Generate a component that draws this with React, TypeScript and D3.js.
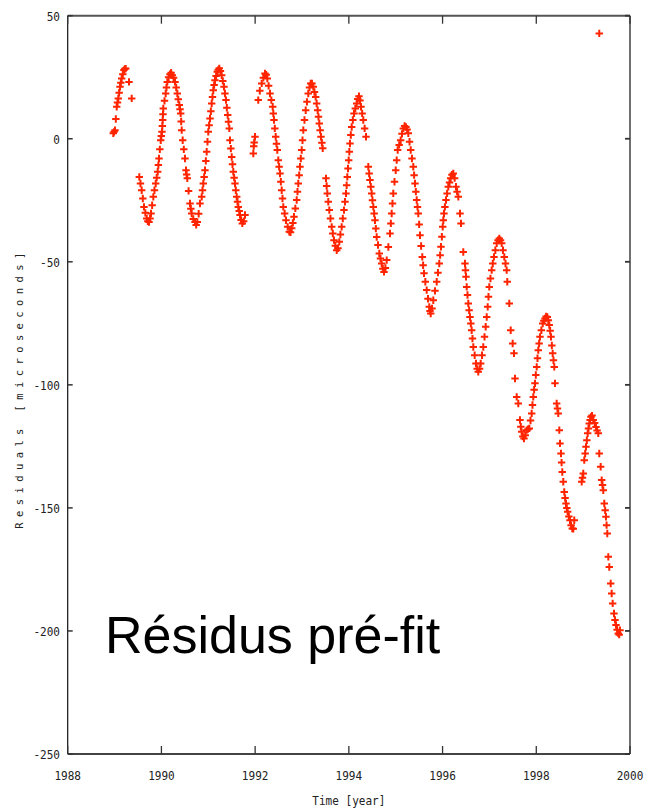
import React from "react";
import * as d3 from "d3";

type Pt = [number, number];

// Residuals [microseconds] vs time [year] (order irrelevant)
const obs1989: Pt[] = [
  [1988.973, 2.2], [1988.99, 2.8], [1989.009, 3.5], [1989.027, 8.0], [1989.046, 13.0],
  [1989.063, 14.7], [1989.08, 16.4], [1989.098, 18.7], [1989.116, 21.1], [1989.134, 22.8],
  [1989.152, 24.5], [1989.176, 26.2], [1989.201, 27.9], [1989.22, 28.4], [1989.238, 28.5],
  [1989.308, 23.1], [1989.366, 16.4],
  [1989.528, -15.5], [1989.553, -18.2], [1989.579, -20.9], [1989.603, -24.3], [1989.628, -27.7],
  [1989.657, -30.1], [1989.686, -32.4], [1989.71, -33.5], [1989.735, -33.8], [1989.757, -32.4],
  [1989.778, -30.4], [1989.802, -27.0], [1989.827, -23.6], [1989.852, -20.9], [1989.878, -18.2],
  [1989.9, -15.8], [1989.921, -13.4], [1989.935, -10.7], [1989.948, -8.0], [1989.966, -4.3],
  [1989.985, -0.6], [1989.998, 1.1],
];
const obs1990: Pt[] = [
  [1990.012, 2.8], [1990.02, 5.2], [1990.027, 7.6], [1990.034, 10.0], [1990.04, 12.3],
  [1990.066, 15.4], [1990.091, 18.4], [1990.108, 20.8], [1990.125, 23.1], [1990.154, 25.0],
  [1990.183, 26.2], [1990.207, 26.8], [1990.232, 25.8], [1990.26, 24.8], [1990.29, 23.1],
  [1990.315, 20.8], [1990.339, 18.4], [1990.36, 16.0], [1990.382, 13.7], [1990.397, 12.0],
  [1990.411, 10.3], [1990.422, 7.0], [1990.433, 3.5], [1990.454, -0.6], [1990.478, -4.3],
  [1990.503, -8.0], [1990.525, -12.8], [1990.538, -14.5], [1990.552, -16.1], [1990.58, -21.2],
  [1990.61, -26.3], [1990.628, -28.4], [1990.646, -30.4], [1990.68, -32.6], [1990.717, -33.8],
  [1990.742, -35.0], [1990.766, -33.8], [1990.795, -30.5], [1990.823, -26.3], [1990.86, -23.6],
  [1990.877, -20.9], [1990.894, -18.2], [1990.912, -15.5], [1990.93, -12.8], [1990.948, -9.0],
  [1990.966, -5.3], [1990.983, -1.2],
];
const obs1991: Pt[] = [
  [1991.0, 2.8], [1991.018, 5.5], [1991.037, 8.2], [1991.055, 11.2], [1991.073, 14.3],
  [1991.09, 17.0], [1991.107, 19.7], [1991.125, 21.8], [1991.143, 23.8], [1991.168, 25.5],
  [1991.192, 27.2], [1991.213, 28.0], [1991.235, 28.6], [1991.26, 27.5], [1991.286, 25.8],
  [1991.31, 23.5], [1991.335, 21.1], [1991.356, 18.4], [1991.378, 15.7], [1991.396, 12.6],
  [1991.414, 9.6], [1991.432, 6.9], [1991.449, 4.2], [1991.464, -0.6], [1991.482, -4.0],
  [1991.5, -7.4], [1991.517, -10.4], [1991.534, -13.4], [1991.552, -15.8], [1991.57, -18.2],
  [1991.588, -20.9], [1991.607, -23.6], [1991.624, -25.6], [1991.641, -27.7], [1991.66, -29.4],
  [1991.677, -31.0], [1991.7, -33.0], [1991.726, -34.4], [1991.755, -33.5], [1991.784, -31.0],
  [1991.961, -6.0], [1991.97, -3.0], [1991.98, -1.5], [1991.997, 0.8],
];
const obs1992: Pt[] = [
  [1992.067, 15.7], [1992.1, 19.5], [1992.14, 22.5], [1992.175, 24.8], [1992.21, 26.5],
  [1992.235, 26.0], [1992.26, 24.5], [1992.288, 21.5], [1992.317, 18.4], [1992.346, 15.7],
  [1992.375, 13.0], [1992.388, 10.3], [1992.402, 7.6], [1992.42, 4.2], [1992.439, 0.8],
  [1992.456, -2.0], [1992.473, -4.6], [1992.494, -8.7], [1992.512, -11.4], [1992.531, -14.1],
  [1992.549, -17.5], [1992.567, -20.9], [1992.584, -24.3], [1992.601, -27.7], [1992.63, -30.4],
  [1992.659, -33.1], [1992.694, -35.8], [1992.729, -37.8], [1992.755, -38.0], [1992.78, -36.4],
  [1992.805, -34.2], [1992.829, -31.7], [1992.858, -28.3], [1992.887, -24.9], [1992.904, -21.5],
  [1992.921, -18.2], [1992.94, -14.8], [1992.957, -11.4], [1992.975, -8.0], [1992.994, -4.6],
];
const obs1993: Pt[] = [
  [1993.011, -0.6], [1993.028, 3.5], [1993.053, 7.6], [1993.079, 11.6], [1993.106, 15.0],
  [1993.134, 18.4], [1993.16, 20.8], [1993.186, 22.5], [1993.213, 22.5], [1993.241, 21.1],
  [1993.266, 19.0], [1993.292, 17.0], [1993.313, 14.3], [1993.335, 11.6], [1993.352, 8.9],
  [1993.369, 6.2], [1993.387, 3.5], [1993.405, 0.8], [1993.424, -1.6], [1993.442, -3.9],
  [1993.512, -16.1], [1993.526, -19.2], [1993.54, -22.2], [1993.561, -25.6], [1993.583, -29.0],
  [1993.608, -32.4], [1993.634, -35.8], [1993.658, -38.5], [1993.683, -41.2], [1993.712, -43.5],
  [1993.741, -45.3], [1993.768, -44.5], [1993.796, -41.9], [1993.82, -38.9], [1993.847, -35.8],
  [1993.871, -32.4], [1993.896, -29.0], [1993.918, -25.6], [1993.939, -22.2], [1993.953, -18.9],
  [1993.967, -15.5], [1993.982, -12.1], [1993.997, -8.7],
];
const obs1994: Pt[] = [
  [1994.01, -5.3], [1994.024, -1.9], [1994.042, 1.5], [1994.061, 4.8], [1994.085, 7.6],
  [1994.11, 10.3], [1994.138, 12.3], [1994.167, 14.3], [1994.19, 16.2], [1994.216, 17.3],
  [1994.238, 15.5], [1994.259, 13.0], [1994.284, 10.3], [1994.308, 7.6], [1994.337, 4.2],
  [1994.366, 0.8], [1994.415, -11.4], [1994.433, -14.1], [1994.451, -16.8], [1994.469, -19.5],
  [1994.487, -22.2], [1994.504, -25.0], [1994.522, -27.7], [1994.54, -30.4], [1994.558, -33.1],
  [1994.576, -36.5], [1994.594, -39.9], [1994.622, -43.2], [1994.65, -46.6], [1994.675, -48.7],
  [1994.701, -50.7], [1994.725, -52.8], [1994.75, -54.1], [1994.78, -52.5], [1994.808, -49.3],
  [1994.843, -44.0], [1994.878, -38.5], [1994.896, -34.4], [1994.914, -30.4], [1994.931, -26.3],
  [1994.948, -22.2], [1994.974, -17.5],
];
const obs1995: Pt[] = [
  [1995.0, -12.8], [1995.021, -8.7], [1995.042, -4.6], [1995.074, -2.5], [1995.106, -0.6],
  [1995.134, 2.0], [1995.162, 4.2], [1995.19, 5.2], [1995.219, 4.8], [1995.244, 3.8],
  [1995.269, 2.2], [1995.295, -1.2], [1995.32, -4.6], [1995.347, -8.0], [1995.375, -11.4],
  [1995.393, -14.8], [1995.412, -18.2], [1995.43, -21.5], [1995.448, -24.9], [1995.465, -27.7],
  [1995.482, -30.4], [1995.5, -34.8], [1995.518, -39.2], [1995.542, -43.6], [1995.567, -48.0],
  [1995.585, -51.4], [1995.604, -54.7], [1995.632, -58.1], [1995.661, -61.5], [1995.689, -65.0],
  [1995.717, -68.3], [1995.732, -70.0], [1995.747, -71.0], [1995.775, -69.0], [1995.802, -65.6],
  [1995.838, -61.8], [1995.875, -58.1], [1995.902, -54.4], [1995.93, -50.7], [1995.948, -47.3],
  [1995.966, -43.9], [1995.985, -39.8],
];
const obs1996: Pt[] = [
  [1996.003, -35.8], [1996.016, -33.1], [1996.03, -30.4], [1996.05, -27.7], [1996.073, -24.9],
  [1996.097, -22.2], [1996.122, -19.5], [1996.148, -17.8], [1996.173, -16.1], [1996.2, -14.6],
  [1996.229, -14.1], [1996.258, -16.0], [1996.286, -19.5], [1996.31, -21.5], [1996.336, -23.6],
  [1996.372, -30.4], [1996.393, -34.4], [1996.442, -46.0], [1996.478, -50.7], [1996.489, -53.4],
  [1996.5, -56.1], [1996.515, -60.2], [1996.532, -63.5], [1996.549, -66.9], [1996.567, -69.7],
  [1996.585, -72.4], [1996.603, -75.1], [1996.621, -77.8], [1996.638, -81.2], [1996.656, -84.6],
  [1996.685, -88.0], [1996.713, -91.3], [1996.738, -93.5], [1996.762, -94.7], [1996.79, -93.5],
  [1996.814, -91.3], [1996.842, -88.0], [1996.869, -84.6], [1996.895, -80.5], [1996.92, -76.4],
  [1996.942, -72.4], [1996.963, -68.3], [1996.98, -64.2], [1996.997, -60.2],
];
const obs1997: Pt[] = [
  [1997.022, -56.8], [1997.048, -53.4], [1997.072, -50.7], [1997.097, -48.0], [1997.126, -45.3],
  [1997.155, -42.5], [1997.183, -41.2], [1997.211, -40.5], [1997.237, -41.2], [1997.262, -42.5],
  [1997.29, -45.3], [1997.317, -48.0], [1997.343, -50.7], [1997.368, -53.4], [1997.381, -58.1],
  [1997.424, -66.9], [1997.454, -77.8], [1997.496, -83.2], [1997.524, -87.2], [1997.546, -97.4],
  [1997.582, -104.9], [1997.616, -107.6], [1997.652, -114.3], [1997.67, -117.0], [1997.688, -119.1],
  [1997.713, -121.0], [1997.738, -121.8], [1997.765, -120.5], [1997.795, -118.4], [1997.823, -118.0],
  [1997.851, -117.7], [1997.877, -114.5], [1997.902, -111.6], [1997.919, -108.2], [1997.936, -104.9],
  [1997.954, -102.0], [1997.972, -99.4], [1997.99, -96.0],
];
const obs1998: Pt[] = [
  [1998.009, -92.7], [1998.026, -89.2], [1998.043, -85.9], [1998.061, -83.2], [1998.079, -80.5],
  [1998.108, -77.8], [1998.137, -75.1], [1998.162, -74.0], [1998.186, -73.0], [1998.21, -72.2],
  [1998.235, -72.4], [1998.256, -73.8], [1998.277, -75.7], [1998.296, -78.0], [1998.314, -80.5],
  [1998.332, -84.0], [1998.35, -87.2], [1998.367, -90.0], [1998.384, -92.7], [1998.399, -99.4],
  [1998.435, -107.6], [1998.452, -109.6], [1998.469, -111.6], [1998.491, -118.4], [1998.506, -123.8],
  [1998.527, -127.9], [1998.54, -131.6], [1998.555, -135.4], [1998.576, -139.4], [1998.597, -143.5],
  [1998.615, -146.0], [1998.634, -148.2], [1998.652, -150.0], [1998.67, -151.6], [1998.695, -153.5],
  [1998.719, -155.0], [1998.743, -157.0], [1998.768, -158.4], [1998.79, -158.5], [1998.811, -155.0],
  [1998.969, -139.4], [1998.986, -137.7],
];
const obs1999: Pt[] = [
  [1999.003, -136.0], [1999.024, -130.6], [1999.043, -127.9], [1999.061, -125.2], [1999.079, -122.5],
  [1999.097, -119.7], [1999.114, -117.7], [1999.131, -115.7], [1999.149, -114.3], [1999.167, -113.0],
  [1999.19, -112.5], [1999.216, -114.3], [1999.245, -115.5], [1999.274, -117.1], [1999.298, -118.5],
  [1999.323, -119.7], [1999.344, -127.9], [1999.374, -133.3], [1999.396, -138.7], [1999.413, -140.7],
  [1999.43, -142.8], [1999.451, -148.2], [1999.47, -151.0], [1999.487, -153.6], [1999.5, -157.0],
  [1999.515, -160.4], [1999.537, -169.9], [1999.558, -174.0], [1999.588, -180.7], [1999.609, -184.8],
  [1999.63, -188.8], [1999.658, -192.9], [1999.68, -195.5], [1999.701, -197.6], [1999.725, -199.5],
  [1999.75, -201.0], [1999.77, -201.5], [1999.786, -199.7],
  [1999.344, 42.8],
];

const xTicks = [1988, 1990, 1992, 1994, 1996, 1998, 2000];
const yTicks = [50, 0, -50, -100, -150, -200, -250];
const xLabel = "Time [year]";
const yLabel = "Residuals [microseconds]";
const overlay = "Résidus pré-fit";

const W = 648;
const H = 810;
const M = { left: 67.7, right: 630, top: 15.7, bottom: 754 };
const RED = "#ff2400";
const MONO = "'DejaVu Sans Mono', 'Liberation Mono', monospace";

export default function App() {
  const all = [
    ...obs1989, ...obs1990, ...obs1991, ...obs1992, ...obs1993, ...obs1994,
    ...obs1995, ...obs1996, ...obs1997, ...obs1998, ...obs1999,
  ];
  const x = d3.scaleLinear().domain([1988, 2000]).range([M.left, M.right]);
  const y = d3.scaleLinear().domain([-250, 50]).range([M.bottom, M.top]);
  const arm = 3.7;

  return (
    <svg
      width={W}
      height={H}
      viewBox={`0 0 ${W} ${H}`}
      style={{ position: "absolute", left: 0, top: 0, background: "#fff" }}
    >
      <rect x={0} y={0} width={W} height={H} fill="#fff" />
      {/* frame */}
      <line x1={M.left} x2={M.right} y1={M.top} y2={M.top} stroke="#555" strokeWidth={2} />
      <line x1={M.left} x2={M.right} y1={M.bottom} y2={M.bottom} stroke="#444" strokeWidth={2} />
      <line x1={M.left} x2={M.left} y1={M.top} y2={M.bottom} stroke="#111" strokeWidth={1.2} />
      <line x1={M.right} x2={M.right} y1={M.top} y2={M.bottom} stroke="#111" strokeWidth={1.2} />
      {/* x ticks */}
      {xTicks.map((t) => (
        <g key={"xt" + t}>
          <line x1={x(t)} x2={x(t)} y1={M.bottom} y2={M.bottom - 8} stroke="#333" strokeWidth={1.3} />
          <line x1={x(t)} x2={x(t)} y1={M.top} y2={M.top + 8} stroke="#333" strokeWidth={1.3} />
          <text
            transform={`translate(${x(t)},${780}) scale(0.85,1)`}
            textAnchor="middle"
            fontFamily={MONO}
            fontSize={13}
            fill="#222"
          >
            {t}
          </text>
        </g>
      ))}
      {/* y ticks */}
      {yTicks.map((t) => (
        <g key={"yt" + t}>
          <line x1={M.left} x2={M.left + 5} y1={y(t)} y2={y(t)} stroke="#333" strokeWidth={1.5} />
          <line x1={M.right} x2={M.right - 5} y1={y(t)} y2={y(t)} stroke="#333" strokeWidth={1.8} />
          <text
            transform={`translate(${60},${y(t) + 4.8}) scale(0.85,1)`}
            textAnchor="end"
            fontFamily={MONO}
            fontSize={13}
            fill="#222"
          >
            {t}
          </text>
        </g>
      ))}
      {/* axis titles */}
      <text
        transform={`translate(${x(1994)},${805}) scale(0.85,1)`}
        textAnchor="middle"
        fontFamily={MONO}
        fontSize={13}
        fill="#222"
      >
        {xLabel}
      </text>
      <text
        transform={`translate(${23},${388}) rotate(-90)`}
        textAnchor="middle"
        fontFamily={MONO}
        fontSize={10.5}
        letterSpacing={5.4}
        fill="#222"
      >
        {yLabel}
      </text>
      {/* data markers */}
      <g stroke={RED} strokeWidth={2} strokeLinecap="butt">
        {all.map(([t, v], i) => {
          const cx = x(t);
          const cy = y(v);
          return (
            <path
              key={i}
              d={`M${cx - arm},${cy}H${cx + arm}M${cx},${cy - arm}V${cy + arm}`}
            />
          );
        })}
      </g>
      {/* overlay caption */}
      <text
        x={105}
        y={653}
        fontFamily="'Liberation Sans', Arial, sans-serif"
        fontSize={52}
        fill="#000"
      >
        {overlay}
      </text>
    </svg>
  );
}
